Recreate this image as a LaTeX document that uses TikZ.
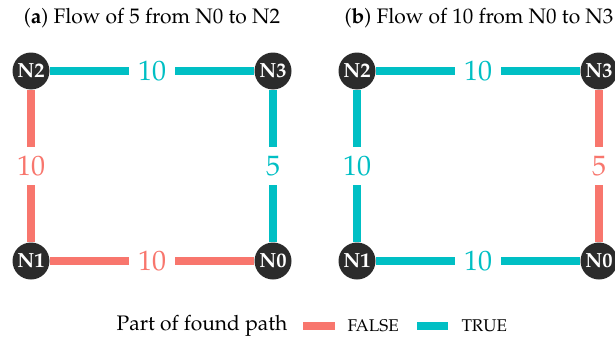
\documentclass[tikz,border=0pt]{standalone}
\usepackage[T1]{fontenc}
\usepackage{mathpazo}

\definecolor{falsecol}{HTML}{F8766D}
\definecolor{truecol}{HTML}{00BFC4}
\definecolor{nodecol}{HTML}{2B2B2B}

\tikzset{
	vertex/.style={circle, fill=nodecol, text=white, minimum size=37pt, inner sep=0pt, font=\fontsize{20.5}{20}\selectfont\bfseries},
	falseedge/.style={line width=8pt, falsecol},
	trueedge/.style={line width=8pt, truecol},
	weight/.style={fill=white, inner sep=9pt, font=\fontsize{28}{28}\selectfont},
	caption/.style={font=\fontsize{21}{22}\selectfont},
	keylabel/.style={font=\fontsize{17}{17}\selectfont},
}

\begin{document}
\begin{tikzpicture}[x=1pt, y=-1pt]
			\useasboundingbox (0,0) rectangle (615,340);

			% panel (a)
			\draw node[caption] (titleA) at (152,18) {(\textbf{a}) Flow of 5 from N0 to N2};
			\draw node[vertex] (a2) at (31,71) {N2};
			\draw node[vertex] (a3) at (273,71) {N3};
			\draw node[vertex] (a1) at (31,261) {N1};
			\draw node[vertex] (a0) at (273,261) {N0};

			\draw[trueedge] (a2) -- node[weight] {10} (a3);
			\draw[trueedge] (a3) -- node[weight] {5} (a0);
			\draw[falseedge] (a2) -- node[weight] {10} (a1);
			\draw[falseedge] (a1) -- node[weight] {10} (a0);

			% panel (b)
			\draw node[caption] (titleB) at (479,18) {(\textbf{b}) Flow of 10 from N0 to N3};
			\draw node[vertex] (b2) at (357,71) {N2};
			\draw node[vertex] (b3) at (599,71) {N3};
			\draw node[vertex] (b1) at (357,261) {N1};
			\draw node[vertex] (b0) at (599,261) {N0};

			\draw[trueedge] (b2) -- node[weight] {10} (b3);
			\draw[falseedge] (b3) -- node[weight] {5} (b0);
			\draw[trueedge] (b2) -- node[weight] {10} (b1);
			\draw[trueedge] (b1) -- node[weight] {10} (b0);

			% legend
			\draw node[caption, anchor=east] (legtitle) at (291,326) {Part of found path};
			\coordinate (f1) at (303,326);
			\coordinate (f2) at (335,326);
			\coordinate (t1) at (417,326);
			\coordinate (t2) at (448,326);
			\draw[falseedge] (f1) -- (f2);
			\draw node[keylabel, anchor=west] (falselbl) at (344,326) {FALSE};
			\draw[trueedge] (t1) -- (t2);
			\draw node[keylabel, anchor=west] (truelbl) at (458,326) {TRUE};
		\end{tikzpicture}
\end{document}
